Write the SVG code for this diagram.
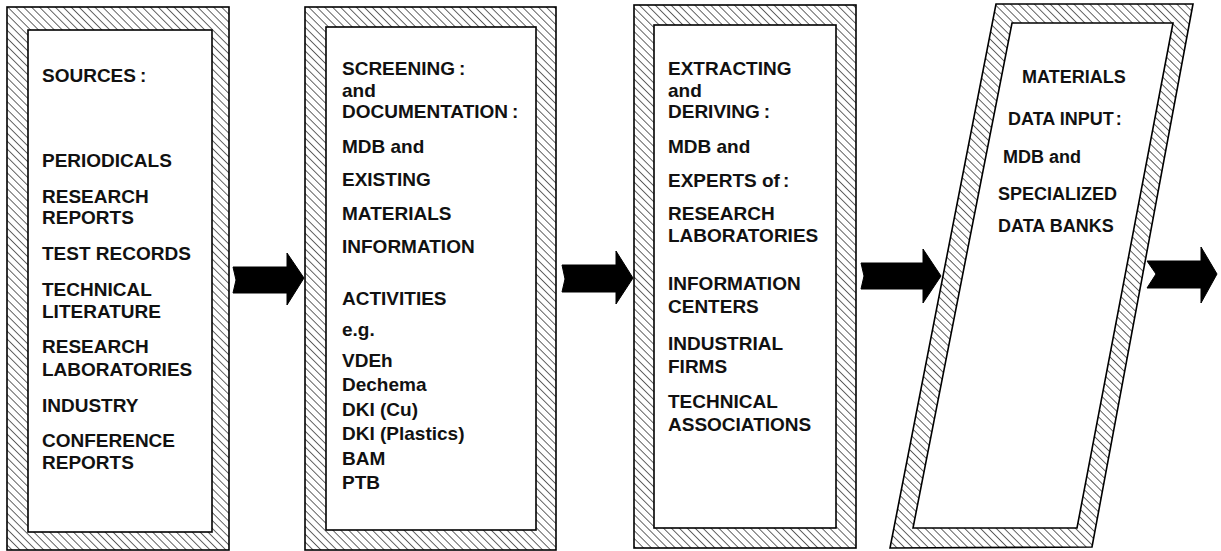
<svg xmlns="http://www.w3.org/2000/svg" width="1221" height="551" viewBox="0 0 1221 551">
<style>
.frame{fill:url(#hatch);stroke:#000;stroke-width:1.6}
.inner{fill:#fff;stroke:#000;stroke-width:1.6}
.t{font-family:"Liberation Sans",Arial,Helvetica,sans-serif;font-size:19px;font-weight:bold;fill:#111}
.t4{font-size:18px}
.arrow{fill:#000;stroke:#000;stroke-width:1}
</style>
<defs>
<pattern id="hatch" patternUnits="userSpaceOnUse" width="5.6" height="5.6" patternTransform="rotate(-45)">
<rect width="5.6" height="5.6" fill="#fff"/>
<line x1="0" y1="0" x2="0" y2="5.6" stroke="#000" stroke-width="1.2"/>
</pattern>
</defs>
<rect width="1221" height="551" fill="#fff"/>

<g id="sources">
<rect class="frame" x="7" y="7" width="222" height="543"/>
<rect class="inner" x="28" y="30" width="184" height="502"/>
<text class="t" x="42" y="82">SOURCES<tspan dx="4">:</tspan></text>
<text class="t" x="42" y="167">PERIODICALS</text>
<text class="t" x="42" y="203">RESEARCH</text>
<text class="t" x="42" y="224">REPORTS</text>
<text class="t" x="42" y="260">TEST RECORDS</text>
<text class="t" x="42" y="296">TECHNICAL</text>
<text class="t" x="42" y="318">LITERATURE</text>
<text class="t" x="42" y="353">RESEARCH</text>
<text class="t" x="42" y="376">LABORATORIES</text>
<text class="t" x="42" y="412">INDUSTRY</text>
<text class="t" x="42" y="447">CONFERENCE</text>
<text class="t" x="42" y="469">REPORTS</text>
</g>

<g id="screening">
<rect class="frame" x="305" y="7" width="251" height="543"/>
<rect class="inner" x="326" y="27" width="210" height="503"/>
<text class="t" x="342" y="75">SCREENING<tspan dx="4">:</tspan></text>
<text class="t" x="342" y="97">and</text>
<text class="t" x="342" y="118">DOCUMENTATION<tspan dx="4">:</tspan></text>
<text class="t" x="342" y="153">MDB and</text>
<text class="t" x="342" y="186">EXISTING</text>
<text class="t" x="342" y="220">MATERIALS</text>
<text class="t" x="342" y="253">INFORMATION</text>
<text class="t" x="342" y="305">ACTIVITIES</text>
<text class="t" x="342" y="336">e.g.</text>
<text class="t" x="342" y="367">VDEh</text>
<text class="t" x="342" y="391">Dechema</text>
<text class="t" x="342" y="416">DKI (Cu)</text>
<text class="t" x="342" y="440">DKI (Plastics)</text>
<text class="t" x="342" y="465">BAM</text>
<text class="t" x="342" y="489">PTB</text>
</g>

<g id="extracting">
<rect class="frame" x="634" y="5" width="222" height="543"/>
<rect class="inner" x="654" y="25" width="182" height="503"/>
<text class="t" x="668" y="75">EXTRACTING</text>
<text class="t" x="668" y="97">and</text>
<text class="t" x="668" y="118">DERIVING<tspan dx="4">:</tspan></text>
<text class="t" x="668" y="153">MDB and</text>
<text class="t" x="668" y="187">EXPERTS of<tspan dx="3">:</tspan></text>
<text class="t" x="668" y="220">RESEARCH</text>
<text class="t" x="668" y="242">LABORATORIES</text>
<text class="t" x="668" y="290">INFORMATION</text>
<text class="t" x="668" y="313">CENTERS</text>
<text class="t" x="668" y="350">INDUSTRIAL</text>
<text class="t" x="668" y="373">FIRMS</text>
<text class="t" x="668" y="408">TECHNICAL</text>
<text class="t" x="668" y="431">ASSOCIATIONS</text>
</g>

<g id="datainput">
<polygon class="frame" points="996,4 1193,4 1092,547 890,548"/>
<polygon class="inner" points="1012,23 1173,23 1077,528 913,528"/>
<text class="t t4" x="1022" y="83">MATERIALS</text>
<text class="t t4" x="1008" y="125">DATA INPUT<tspan dx="4">:</tspan></text>
<text class="t t4" x="1003" y="163">MDB and</text>
<text class="t t4" x="998" y="200">SPECIALIZED</text>
<text class="t t4" x="998" y="232">DATA BANKS</text>
</g>

<g id="connectors">
<polygon class="arrow" points="233,267 287,267 287,253 304,278 287,305 287,293 233,293 236,280"/>
<polygon class="arrow" points="562,265 616,265 616,251 633,278 616,304 616,292 562,292 565,279"/>
<polygon class="arrow" points="861,263 923,263 923,249 941,276 923,303 923,289 861,289 864,276"/>
<polygon class="arrow" points="1147,261 1201,261 1201,247 1217,274 1201,303 1201,288 1147,288 1156,274"/>
</g>
</svg>
